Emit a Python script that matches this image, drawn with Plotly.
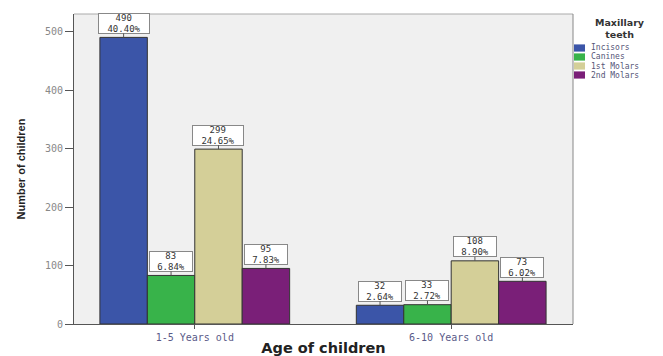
import plotly.graph_objects as go

# Data: counts of affected maxillary teeth by age group
age_groups = ["1-5 Years old", "6-10 Years old"]
teeth = ["Incisors", "Canines", "1st Molars", "2nd Molars"]
counts = {
    "Incisors": [490, 32],
    "Canines": [83, 33],
    "1st Molars": [299, 108],
    "2nd Molars": [95, 73],
}
percents = {
    "Incisors": ["40.40%", "2.64%"],
    "Canines": ["6.84%", "2.72%"],
    "1st Molars": ["24.65%", "8.90%"],
    "2nd Molars": ["7.83%", "6.02%"],
}
colors = {
    "Incisors": "#3b55a8",
    "Canines": "#38b34a",
    "1st Molars": "#d4cf98",
    "2nd Molars": "#7a1f78",
}
y_ticks = [0, 100, 200, 300, 400, 500]

MONO = "DejaVu Sans Mono"

# Figure and plot-area geometry in pixels
W, H = 663, 356
M_L, M_R, M_T, M_B = 74, 90, 14, 32
PW, PH = W - M_L - M_R, H - M_T - M_B


def px_x(px):
    """Pixel column -> paper x (paper spans the plot area)."""
    return (px - M_L) / PW


def px_y(py):
    """Pixel row -> paper y."""
    return 1 - (py - M_T) / PH


fig = go.Figure()
n = len(teeth)
group_width = 0.74
bar_w = group_width / n
for t in teeth:
    fig.add_trace(go.Bar(
        name=t,
        x=age_groups,
        y=counts[t],
        marker=dict(color=colors[t], line=dict(color="#333333", width=1)),
        showlegend=False,
    ))

# Value/percentage boxes above every bar, sized to their text
annotations = []
for i, t in enumerate(teeth):
    for g, grp in enumerate(age_groups):
        xpos = g - group_width / 2 + bar_w * (i + 0.5)
        label = f"{counts[t][g]}<br>{percents[t][g]}"
        nchars = max(len(str(counts[t][g])), len(percents[t][g]))
        annotations.append(dict(
            x=xpos, y=counts[t][g], xref="x", yref="y",
            text=label,
            showarrow=True, arrowhead=0, arrowwidth=1, arrowcolor="#555555",
            ax=0, ay=-14,
            width=8 * nchars + 2, height=19,
            font=dict(family=MONO, size=9, color="#333333"),
            bgcolor="white", bordercolor="#888888", borderwidth=1, borderpad=0,
        ))

# Compact legend beside the plot: title plus coloured swatches with labels
legend_x0 = 574
legend_item_y0 = 48
legend_step = 9
annotations.append(dict(
    x=px_x(620), y=px_y(28.5), xref="paper", yref="paper",
    text="<b>Maxillary<br>teeth</b>", showarrow=False,
    xanchor="center", yanchor="middle", align="center",
    font=dict(family="DejaVu Sans", size=9.5, color="#333333"),
))
shapes = []
for i, t in enumerate(teeth):
    yc = legend_item_y0 + i * legend_step
    shapes.append(dict(
        type="rect", xref="paper", yref="paper",
        x0=px_x(legend_x0), x1=px_x(legend_x0 + 11),
        y0=px_y(yc + 3.6), y1=px_y(yc - 3.6),
        fillcolor=colors[t], line=dict(width=0),
    ))
    annotations.append(dict(
        x=px_x(legend_x0 + 15), y=px_y(yc), xref="paper", yref="paper",
        text=t, showarrow=False, xanchor="left", yanchor="middle",
        font=dict(family=MONO, size=8, color="#555577"),
    ))

# Light frame on the top and right of the plot area
shapes.append(dict(type="line", xref="paper", yref="paper", x0=0, x1=1, y0=1, y1=1,
                   line=dict(color="#aaaaaa", width=1)))
shapes.append(dict(type="line", xref="paper", yref="paper", x0=1, x1=1, y0=0, y1=1,
                   line=dict(color="#888888", width=1)))

fig.update_layout(
    width=W, height=H,
    margin=dict(l=M_L, r=M_R, t=M_T, b=M_B),
    paper_bgcolor="white",
    plot_bgcolor="#f0f0f0",
    barmode="group",
    bargap=1 - group_width,
    bargroupgap=0,
    showlegend=False,
    annotations=annotations,
    shapes=shapes,
    xaxis=dict(
        type="category",
        range=[-0.471, 1.475],
        automargin=False,
        showline=True, linecolor="#555555", mirror=False,
        ticks="outside", ticklen=4, tickcolor="#555555",
        tickfont=dict(family=MONO, size=10, color="#5a5a88"),
        title=dict(text="<b>Age of children</b>", standoff=0,
                   font=dict(family="DejaVu Sans", size=14.5, color="#222222")),
    ),
    yaxis=dict(
        range=[0, 530],
        tickvals=y_ticks,
        automargin=False,
        showgrid=False, zeroline=False,
        showline=True, linecolor="#555555", mirror=False,
        ticks="outside", ticklen=8, tickcolor="#555555",
        tickfont=dict(family=MONO, size=10, color="#888888"),
        title=dict(text="<b>Number of children</b>", standoff=17,
                   font=dict(family="Liberation Sans Narrow, Liberation Sans", size=11, color="#222222")),
    ),
)

fig.write_html("out.html")
